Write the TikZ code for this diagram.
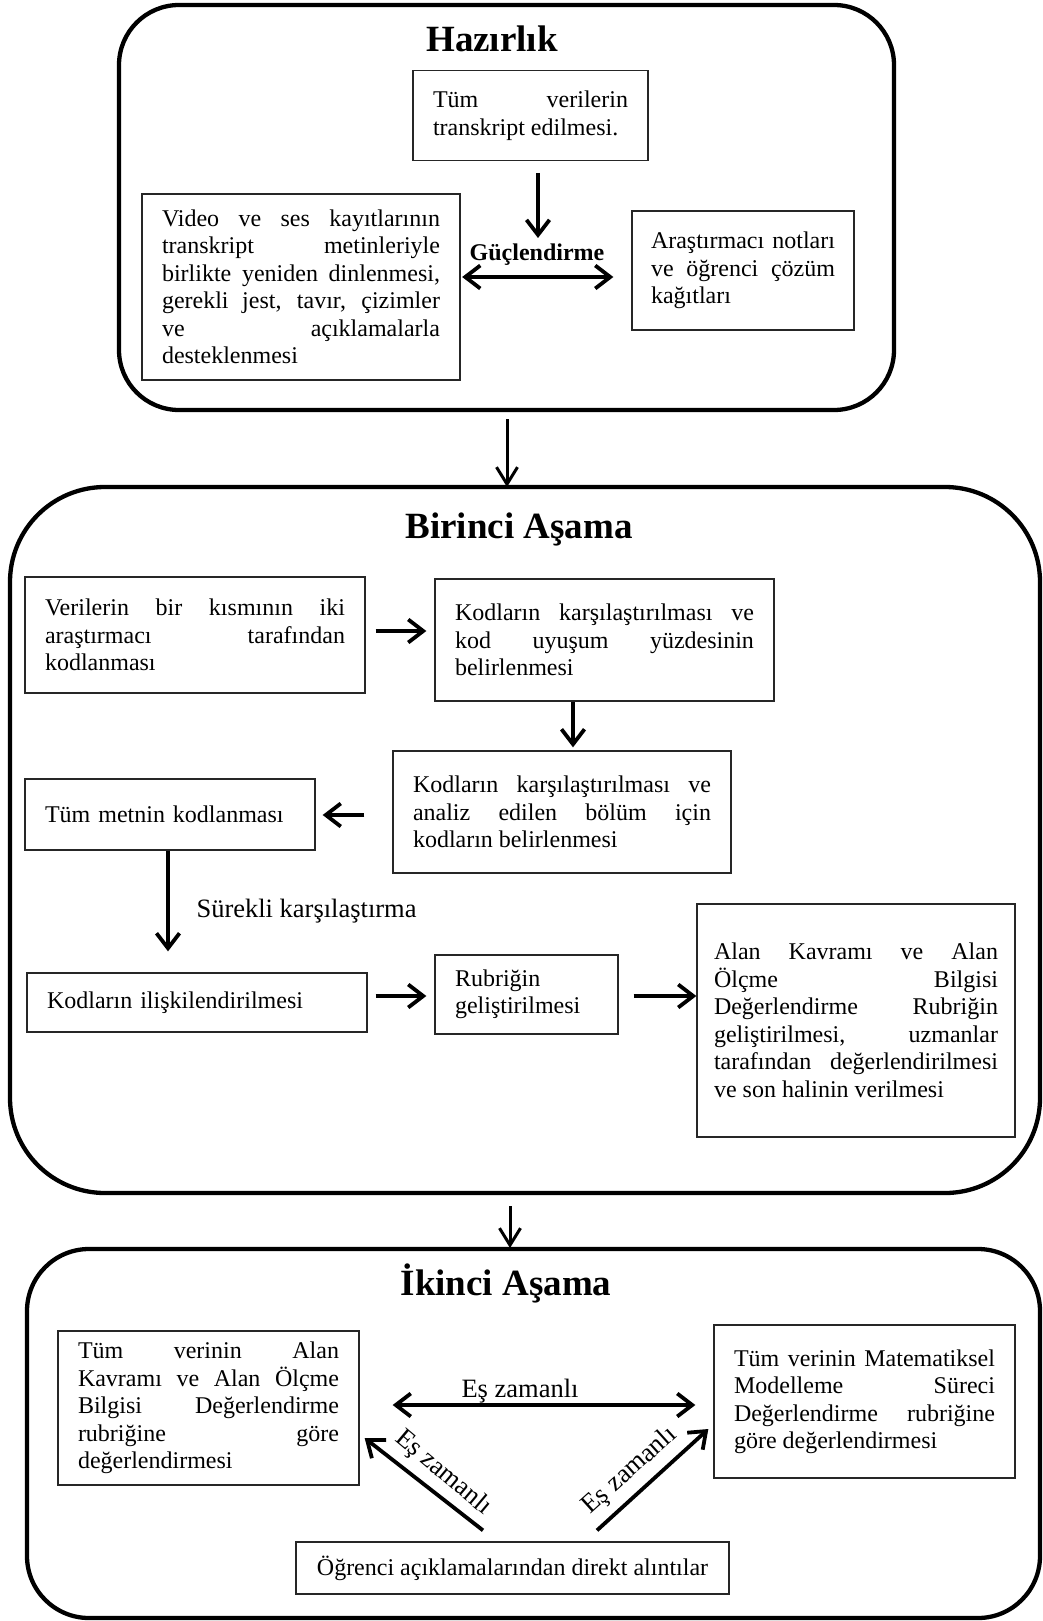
\documentclass[tikz,border=0pt]{standalone}
\usepackage{fontspec}
\setmainfont{Liberation Serif}
\usetikzlibrary{arrows.meta,calc}
\tolerance=10000
\hbadness=10000
\hyphenpenalty=10000
\exhyphenpenalty=10000

\tikzset{
  stage/.style={draw=black, line width=4.3pt, line join=round},
  tbox/.style={draw=black!85, line width=1.3pt, inner xsep=20pt, inner ysep=0pt,
    align=justify, font=\fontsize{24}{27.5}\selectfont},
  pbox/.style={draw=black!85, line width=1.3pt, inner xsep=20pt, inner ysep=0pt,
    align=left, font=\fontsize{24}{27.5}\selectfont},
  title/.style={anchor=base, font=\fontsize{37}{40}\selectfont\bfseries},
  lbl/.style={font=\fontsize{26.5}{30}\selectfont},
  arr/.style={line width=3.8pt, -{Straight Barb[length=15pt,width=23pt]}},
  darr/.style={line width=3.8pt, {Straight Barb[length=15pt,width=23pt]}-{Straight Barb[length=15pt,width=23pt]}},
  thin/.style={line width=3pt, -{Straight Barb[length=17pt,width=21pt]}}
}

\begin{document}
\begin{tikzpicture}[x=1pt,y=-1pt]
\useasboundingbox (0,0) rectangle (1043,1621);

% ---------- Hazırlık ----------
% frame with circular corners (r = 60)
\draw[stage] (119,65) .. controls (119,31.9) and (145.9,5) .. (179,5)
  -- (834,5) .. controls (867.1,5) and (894,31.9) .. (894,65)
  -- (894,350) .. controls (894,383.1) and (867.1,410) .. (834,410)
  -- (179,410) .. controls (145.9,410) and (119,383.1) .. (119,350) -- cycle;
\node[title] (hT) at (492,52) {Hazırlık};

\node[tbox, text width=195pt, minimum height=90pt] (h1) at (530.5,115.5)
  {Tüm verilerin\linebreak transkript edilmesi.};
\node[tbox, text width=278pt, minimum height=186pt] (h2) at (301,287)
  {Video ve ses kayıtlarının\linebreak transkript metinleriyle\linebreak birlikte yeniden dinlenmesi,\linebreak gerekli jest, tavır, çizimler\linebreak ve açıklamalarla\linebreak desteklenmesi};
\node[tbox, inner xsep=19pt, text width=184pt, minimum height=119pt] (h3) at (743,270.5)
  {Araştırmacı notları\linebreak ve öğrenci çözüm\linebreak kağıtları};

\node[anchor=base, font=\fontsize{24}{27}\selectfont\bfseries] (hG) at (537,261) {Güçlendirme};

\coordinate (h1a) at (538,173);
\coordinate (h1b) at (538,238);
\draw[arr] (h1a) -- (h1b);
\coordinate (h2a) at ($(h2.east |- 0,277)+(1.5,0)$);
\coordinate (h3a) at ($(h3.west |- 0,277)+(-18,0)$);
\draw[darr] (h2a) -- (h3a);

% stage link
\coordinate (s1a) at (507,419);
\coordinate (s1b) at (507,487);
\draw[thin] (s1a) -- (s1b);

% ---------- Birinci Aşama ----------
% frame with circular corners (r = 95)
\draw[stage] (10,582) .. controls (10,529.5) and (52.5,487) .. (105,487)
  -- (945,487) .. controls (997.5,487) and (1040,529.5) .. (1040,582)
  -- (1040,1098) .. controls (1040,1150.5) and (997.5,1193) .. (945,1193)
  -- (105,1193) .. controls (52.5,1193) and (10,1150.5) .. (10,1098) -- cycle;
\node[title] (bT) at (519,538) {Birinci Aşama};

\node[tbox, text width=300pt, minimum height=116pt] (b1) at (195,635)
  {Verilerin bir kısmının iki\linebreak araştırmacı tarafından\linebreak kodlanması};
\node[tbox, text width=299pt, minimum height=122pt] (b2) at (604.5,640)
  {Kodların karşılaştırılması ve\linebreak kod uyuşum yüzdesinin\linebreak belirlenmesi};
\node[tbox, text width=298pt, minimum height=122pt] (b3) at (562,812)
  {Kodların karşılaştırılması ve\linebreak analiz edilen bölüm için\linebreak kodların belirlenmesi};
\node[pbox, text width=250pt, minimum height=71pt] (b4) at (170,814.5)
  {Tüm metnin kodlanması};
\node[pbox, text width=300pt, minimum height=59pt] (b5) at (197,1002.5)
  {Kodların ilişkilendirilmesi};
\node[pbox, text width=143pt, minimum height=79pt] (b6) at (526.5,994.5)
  {Rubriğin\\geliştirilmesi};
\node[tbox, inner xsep=17pt, text width=284pt, minimum height=233pt] (b7) at (856,1020.5)
  {Alan Kavramı ve Alan\linebreak Ölçme Bilgisi\linebreak Değerlendirme Rubriğin\linebreak geliştirilmesi, uzmanlar\linebreak tarafından değerlendirilmesi\linebreak ve son halinin verilmesi};

\coordinate (b1a) at ($(b1.east |- 0,631)+(10,0)$);
\coordinate (b2a) at ($(b2.west |- 0,631)+(-8,0)$);
\draw[arr] (b1a) -- (b2a);

\coordinate (b2b) at ($(b2.south -| 573,0)$);
\coordinate (b3b) at ($(b3.north -| 573,0)+(0,-3)$);
\draw[arr] (b2b) -- (b3b);

\coordinate (b3c) at ($(b3.west |- 0,815)+(-28,0)$);
\coordinate (b4c) at ($(b4.east |- 0,815)+(7,0)$);
\draw[arr] (b3c) -- (b4c);

\coordinate (b4d) at ($(b4.south -| 168,0)$);
\coordinate (b5d) at ($(b5.north -| 168,0)+(0,-21)$);
\draw[arr] (b4d) -- (b5d);
\node[lbl, anchor=base west] (bS) at (193,917) {Sürekli karşılaştırma};

\coordinate (b5e) at ($(b5.east |- 0,996)+(8,0)$);
\coordinate (b6e) at ($(b6.west |- 0,996)+(-8,0)$);
\draw[arr] (b5e) -- (b6e);

\coordinate (b6f) at ($(b6.east |- 0,996)+(15,0)$);
\coordinate (b7f) at (b7.west |- 0,996);
\draw[arr] (b6f) -- (b7f);

% stage link
\coordinate (s2a) at (510,1206);
\coordinate (s2b) at (510,1248);
\draw[thin] (s2a) -- (s2b);

% ---------- İkinci Aşama ----------
% frame with circular corners (r = 62)
\draw[stage] (27,1311) .. controls (27,1276.8) and (54.8,1249) .. (89,1249)
  -- (978,1249) .. controls (1012.2,1249) and (1040,1276.8) .. (1040,1311)
  -- (1040,1556) .. controls (1040,1590.2) and (1012.2,1618) .. (978,1618)
  -- (89,1618) .. controls (54.8,1618) and (27,1590.2) .. (27,1556) -- cycle;
\node[title] (iT) at (506,1295) {İkinci Aşama};

\node[tbox, text width=261pt, minimum height=154pt] (i1) at (208.5,1408)
  {Tüm verinin Alan\linebreak Kavramı ve Alan Ölçme\linebreak Bilgisi Değerlendirme\linebreak rubriğine göre\linebreak değerlendirmesi};
\node[tbox, text width=261pt, minimum height=153pt] (i2) at (864.5,1401.5)
  {Tüm verinin Matematiksel\linebreak Modelleme Süreci\linebreak Değerlendirme rubriğine\linebreak göre değerlendirmesi};
\node[draw=black!85, line width=1.3pt, minimum width=433pt, minimum height=52pt,
  font=\fontsize{24}{27.5}\selectfont] (i3) at (512.5,1568)
  {Öğrenci açıklamalarından direkt alıntılar};

\coordinate (i1a) at ($(i1.east |- 0,1405)+(33,0)$);
\coordinate (i2a) at ($(i2.west |- 0,1405)+(-18,0)$);
\draw[darr] (i1a) -- (i2a);
\node[lbl, anchor=base] (iE) at (520,1397) {Eş zamanlı};

\coordinate (i3l) at ($(i3.north -| 483,0)+(0,-11)$);
\coordinate (i1l) at ($(i1.east |- 0,1438)+(5,0)$);
\draw[arr] (i3l) -- (i1l);
\node[lbl, rotate=-40] (iL) at (443,1473) {Eş zamanlı};

\coordinate (i3r) at ($(i3.north -| 597,0)+(0,-11)$);
\coordinate (i2r) at ($(i2.west |- 0,1429)+(-5,0)$);
\draw[arr] (i3r) -- (i2r);
\node[lbl, rotate=42] (iR) at (630,1471) {Eş zamanlı};

\end{tikzpicture}
\end{document}
